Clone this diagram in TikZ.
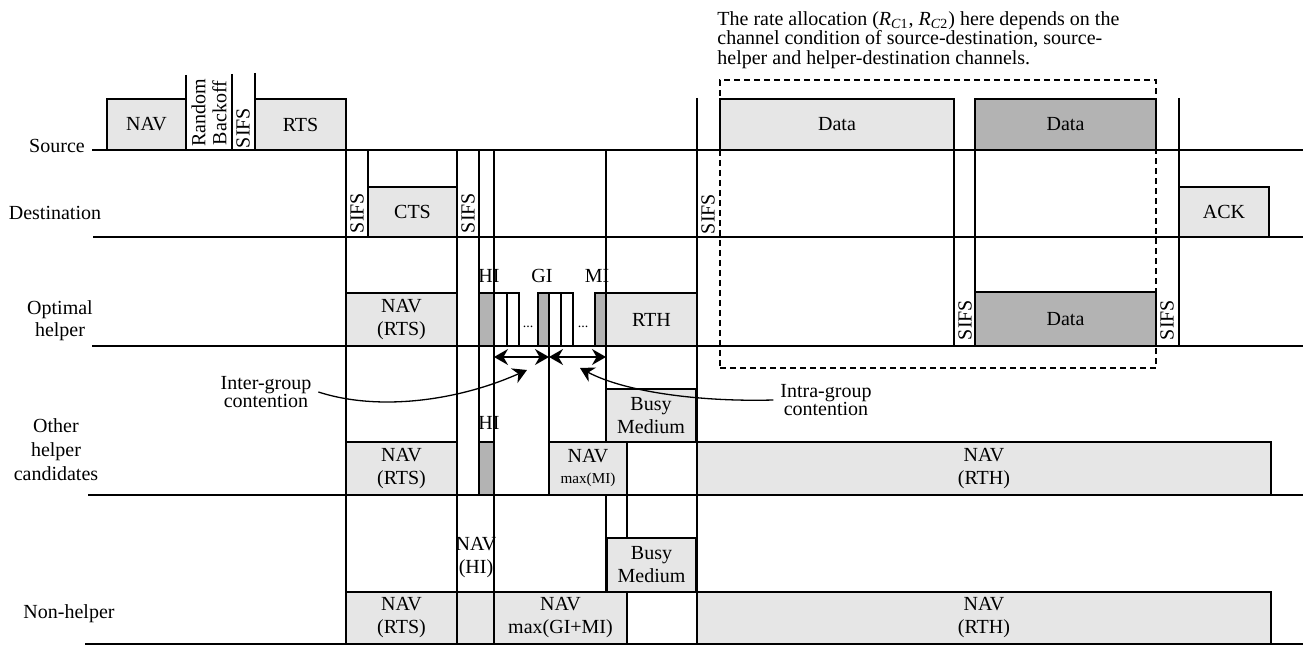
\documentclass[tikz,border=0pt]{standalone}
\usepackage{fontspec}
\setmainfont{Liberation Serif}
\usetikzlibrary{arrows.meta, fit}
\definecolor{SlotLight}{RGB}{230,230,230}
\definecolor{SlotDark}{RGB}{179,179,179}

% box from (x1,y1) to (x2,y2) with a named label node at its centre
\newcommand{\tslot}[7]{%
  \draw[#1] (#3,#4) rectangle (#5,#6);
  \node[slottext] (#2) at ({(#3+#5)/2},{(#4+#6)/2}) {#7};}

\begin{document}
\begin{tikzpicture}[x=0.5pt, y=-0.5pt,
    slot/.style={draw, line width=0.65pt},
    light/.style={slot, fill=SlotLight},
    dark/.style={slot, fill=SlotDark},
    blank/.style={slot, fill=white},
    slottext/.style={inner sep=0pt, align=center,
                     font=\fontsize{10}{11.5}\selectfont},
    gap/.style={rotate=90, inner sep=0pt, align=center,
                font=\fontsize{10}{10.5}\selectfont},
    lane/.style={line width=0.65pt},
    rowlbl/.style={align=center, font=\fontsize{10}{12}\selectfont},
    note/.style={align=center, font=\fontsize{10}{9}\selectfont},
    arr/.style={{Stealth[length=7pt,width=8pt]}-{Stealth[length=7pt,width=8pt]},
                line width=0.65pt},
    pointer/.style={-{Stealth[length=7pt,width=8pt]}, line width=0.65pt}
  ]
  \useasboundingbox (0,0) rectangle (1303,646);

  % time lines of the five stations
  \foreach \y/\x in {150/92, 237/93, 346/92, 495/88, 644/85}
    \draw[lane] (\x,\y) -- (1303,\y);

  % slot boundaries
  \foreach \x/\a/\b in {186/75/150, 232/74/150, 255/73/150, 346/150/644,
      368/150/237, 457/150/644, 479/150/495, 494/150/644, 549/346/495,
      606/150/442, 606/495/592, 627/495/538, 697/98/644,
      954/150/346, 975/150/346, 1179/98/346}
    \draw[lane] (\x,\a) -- (\x,\b);

  % row labels
  \node[rowlbl] (lSrc) at (57,146) {Source};
  \node[rowlbl] (lDst) at (55,213) {Destination};
  \node[rowlbl, font=\fontsize{10}{11}\selectfont] (lOpt) at (60,321) {Optimal\\helper};
  \node[rowlbl] (lOth) at (56,450) {Other\\helper\\candidates};
  \node[rowlbl] (lNon) at (69,614) {Non-helper};

  % source
  \tslot{light}{navS}{107}{99}{186}{150}{NAV}
  \node[gap] (backoff) at (209,113) {Random\\Backoff};
  \node[gap] (sifs1) at (243,128) {SIFS};
  \tslot{light}{rts}{255}{99}{346}{150}{RTS}
  \tslot{light}{dataS1}{720}{99}{954}{150}{Data}
  \tslot{dark}{dataS2}{975}{99}{1156}{150}{Data}

  % destination
  \node[gap] (sifs2) at (357,213) {SIFS};
  \tslot{light}{cts}{368}{187}{457}{237}{CTS}
  \node[gap] (sifs3) at (468,213) {SIFS};
  \node[gap] (sifs4) at (708,214) {SIFS};
  \tslot{light}{ack}{1179}{187}{1269}{237}{ACK}

  % optimal helper
  \tslot{light}{navO}{346}{293}{457}{346}{NAV\\(RTS)}
  \tslot{dark}{hiO}{479}{293}{494}{346}{}
  \tslot{dark}{giO}{538}{293}{549}{346}{}
  \tslot{dark}{miO}{595}{293}{606}{346}{}
  \foreach \a/\b [count=\i] in {494/507, 507/519, 549/561, 561/573}
    \draw[blank] (\a,293) rectangle (\b,346);
  \node[font=\fontsize{7}{7}\selectfont] (dots1) at (528,327) {...};
  \node[font=\fontsize{7}{7}\selectfont] (dots2) at (583,327) {...};
  \tslot{light}{rth}{606}{293}{697}{346}{RTH}
  \node[slottext] (lHI) at (489,276) {HI};
  \node[slottext] (lGI) at (542,276) {GI};
  \node[slottext] (lMI) at (597,276) {MI};
  \node[gap] (sifs5) at (965,320) {SIFS};
  \tslot{dark}{dataO}{975}{292}{1156}{346}{Data}
  \node[gap] (sifs6) at (1167,320) {SIFS};

  % contention windows
  \coordinate (gLeft) at (494,357);
  \coordinate (gMid) at (549,357);
  \coordinate (gRight) at (606,357);
  \draw[arr] (gLeft) -- (gMid);
  \draw[arr] (gMid) -- (gRight);

  % other helper candidates
  \tslot{light}{busyH}{606}{389}{696}{442}{Busy\\Medium}
  \tslot{light}{navH}{346}{442}{457}{495}{NAV\\(RTS)}
  \tslot{dark}{hiH}{479}{442}{494}{495}{}
  \node[slottext] (lHI2) at (489,423) {HI};
  \tslot{light}{navMI}{549}{442}{627}{495}%
       {NAV\\[-1pt]{\fontsize{7.6}{8}\selectfont max(MI)}}
  \tslot{light}{rthH}{697}{442}{1271}{495}{NAV\\(RTH)}

  % non-helper
  \tslot{light}{busyN}{607}{538}{696}{592}{Busy\\Medium}
  \tslot{light}{navN}{346}{592}{457}{644}{NAV\\(RTS)}
  \tslot{light}{hiN}{457}{592}{494}{644}{}
  \node[slottext] (lNavHI) at (476,558) {NAV\\(HI)};
  \tslot{light}{navGM}{494}{592}{627}{644}{NAV\\max(GI+MI)}
  \tslot{light}{rthN}{697}{592}{1271}{644}{NAV\\(RTH)}

  % notes and pointers
  \node[note] (inter) at (266,392) {Inter-group\\contention};
  \node[note] (intra) at (826,400) {Intra-group\\contention};
  \coordinate (interTip) at (527,370);
  \coordinate (intraTip) at (580,368);
  \draw[pointer] (inter.east) .. controls (380,412) and (460,400) .. (interTip);
  \draw[pointer] (intra.west) .. controls (700,402) and (625,392) .. (intraTip);

  % rate allocation zone
  \node[draw, dash pattern=on 3pt off 2pt, line width=0.65pt,
        inner sep=0pt, fit={(720,80) (1156,368)}] (zone) {};
  \node[anchor=north west, inner sep=0pt, align=left,
        font=\fontsize{10}{9.75}\selectfont] (rateNote) at (717,11)
       {The rate allocation (\textit{R}\textsubscript{\textit{C}1}, \textit{R}\textsubscript{\textit{C}2}) here depends on the\\
        channel condition of source-destination, source-\\
        helper and helper-destination channels.};
\end{tikzpicture}
\end{document}
